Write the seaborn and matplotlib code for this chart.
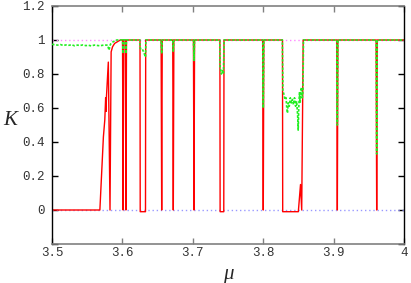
import numpy as np
import pandas as pd
import matplotlib
matplotlib.use("Agg")
import matplotlib.pyplot as plt
import seaborn as sns

sns.set_theme(style="white")

# red curve: K vs mu (breakpoints)
red_mu = [3.500, 3.568, 3.573, 3.575, 3.5762, 3.5768, 3.5774, 3.580, 3.5824,
          3.5840, 3.5860, 3.5890, 3.5930, 3.5970,
          3.6002, 3.6010, 3.6018, 3.6042, 3.6050, 3.6058,
          3.6250, 3.6253, 3.6328, 3.6331,
          3.6550, 3.6558, 3.6566, 3.6715, 3.6723, 3.6731, 3.7009, 3.7017, 3.7025,
          3.7385, 3.7388, 3.7440, 3.7443,
          3.7993, 3.8001, 3.8009,
          3.8274, 3.8277, 3.8499, 3.8530, 3.8547, 3.8568,
          3.9045, 3.9053, 3.9061, 3.9604, 3.9612, 3.9620, 4.000]
red_k = [0.0, 0.0, 0.43, 0.53, 0.66, 0.58, 0.67, 0.87, 0.0,
         0.93, 0.96, 0.98, 0.99, 1.0,
         1.0, 0.0, 1.0, 1.0, 0.0, 1.0,
         1.0, -0.01, -0.01, 1.0,
         1.0, 0.0, 1.0, 1.0, 0.0, 1.0, 1.0, 0.0, 1.0,
         1.0, -0.01, -0.01, 1.0,
         1.0, 0.0, 1.0,
         1.0, -0.01, -0.01, 0.15, 0.0, 1.0,
         1.0, 0.0, 1.0, 1.0, 0.0, 1.0, 1.0]

# green dashed curve
green_mu = [3.500, 3.504, 3.508, 3.512, 3.516, 3.520, 3.524, 3.528, 3.532, 3.536,
            3.540, 3.544, 3.548, 3.552, 3.556, 3.560, 3.564, 3.568, 3.572, 3.576,
            3.579, 3.581, 3.583, 3.587, 3.592,
            3.6002, 3.6010, 3.6018, 3.6042, 3.6050, 3.6058,
            3.6248, 3.6252, 3.6280, 3.6310, 3.6328, 3.6334,
            3.6550, 3.6558, 3.6566, 3.6715, 3.6723, 3.6731, 3.7009, 3.7017, 3.7025,
            3.7383, 3.7388, 3.7405, 3.7420, 3.7435, 3.7445,
            3.7993, 3.8001, 3.8009,
            3.8272, 3.8280, 3.8295, 3.8310, 3.8325, 3.8335, 3.8345, 3.8355, 3.8370,
            3.8385, 3.8400, 3.8415, 3.8430, 3.8445, 3.8460, 3.8475, 3.8490, 3.8497,
            3.8505, 3.8515, 3.8525, 3.8540, 3.8555, 3.8565, 3.8572,
            3.9045, 3.9053, 3.9061, 3.9604, 3.9612, 3.9620, 4.000]
green_k = [0.975, 0.972, 0.970, 0.973, 0.968, 0.971, 0.969, 0.972, 0.966, 0.970,
           0.968, 0.971, 0.967, 0.969, 0.965, 0.970, 0.968, 0.966, 0.969, 0.970,
           0.97, 0.94, 0.975, 0.99, 1.0,
           1.0, 0.92, 1.0, 1.0, 0.92, 1.0,
           1.0, 0.95, 0.95, 0.92, 0.90, 1.0,
           1.0, 0.92, 1.0, 1.0, 0.93, 1.0, 1.0, 0.88, 1.0,
           1.0, 0.84, 0.80, 0.82, 0.80, 1.0,
           1.0, 0.60, 1.0,
           1.0, 0.70, 0.68, 0.65, 0.66, 0.60, 0.57, 0.63, 0.61,
           0.66, 0.63, 0.65, 0.62, 0.66, 0.61, 0.64, 0.55, 0.47,
           0.60, 0.69, 0.63, 0.72, 0.66, 0.70, 1.0,
           1.0, 0.50, 1.0, 1.0, 0.33, 1.0, 1.0]

x_ticks = [3.5, 3.6, 3.7, 3.8, 3.9, 4.0]
x_labels = ["3.5", "3.6", "3.7", "3.8", "3.9", "4"]
y_ticks = [-0.2, 0.0, 0.2, 0.4, 0.6, 0.8, 1.0, 1.2]
y_labels = ["", "0", "0.2", "0.4", "0.6", "0.8", "1", "1.2"]

red = pd.DataFrame({"mu": red_mu, "K": red_k})
green = pd.DataFrame({"mu": green_mu, "K": green_k})

fig = plt.figure(figsize=(4.11, 2.83), dpi=100)
ax = fig.add_axes([52 / 411, 39 / 283, 352 / 411, 238 / 283])

ax.axhline(1.0, color="#ff88ff", lw=1.0, ls=(0, (1, 2)), zorder=1)
ax.axhline(0.0, color="#9999ff", lw=1.0, ls=(0, (1, 2)), zorder=1)

sns.lineplot(data=red, x="mu", y="K", ax=ax, color="#ff0000", lw=1.0,
             estimator=None, sort=False, zorder=2)
sns.lineplot(data=green, x="mu", y="K", ax=ax, color="#22ee22", lw=1.2,
             ls=(0, (1.5, 1.0)), estimator=None, sort=False, zorder=3)

ax.set_xlim(3.5, 4.0)
ax.set_ylim(-0.2, 1.2)
ax.set_xticks(x_ticks)
ax.set_xticklabels(x_labels, family="Liberation Mono", fontsize=9, color="#333333")
ax.set_yticks(y_ticks)
ax.set_yticklabels(y_labels, family="Liberation Mono", fontsize=9, color="#333333")

ax.tick_params(axis="x", direction="in", top=True, bottom=True, length=4,
               width=1, color="#808080", pad=2)
ax.tick_params(axis="y", direction="in", left=True, right=True, length=4,
               width=1, color="#000000", pad=5)

for side in ["left", "right"]:
    ax.spines[side].set_color("black")
    ax.spines[side].set_linewidth(1.0)
for side in ["top", "bottom"]:
    ax.spines[side].set_color("#808080")
    ax.spines[side].set_linewidth(1.2)

ax.set_xlabel("μ", family="Liberation Serif", style="italic", fontsize=15)
ax.set_ylabel("K", family="Liberation Serif", style="italic", fontsize=15,
              rotation=0)
ax.xaxis.set_label_coords(0.5, -0.09)
ax.yaxis.set_label_coords(-0.12, 0.48)

fig.savefig("out.png", dpi=100)
